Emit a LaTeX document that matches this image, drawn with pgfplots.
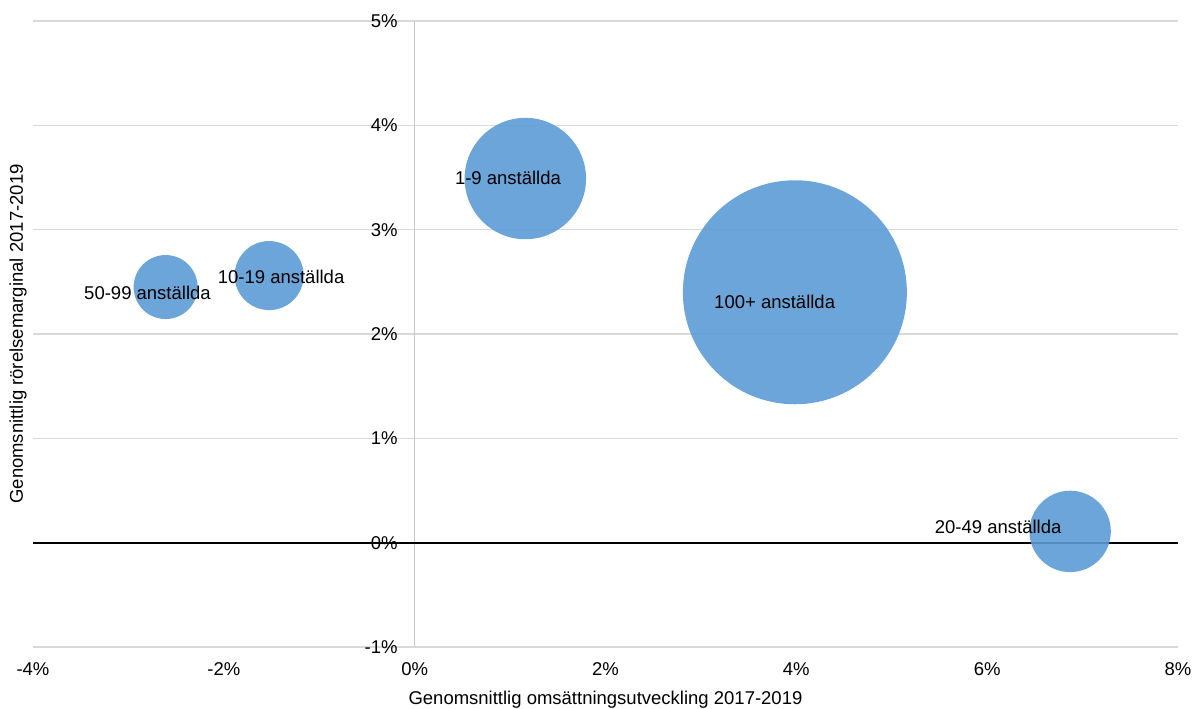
\documentclass[border=0pt]{standalone}
\usepackage{fontspec}
\setmainfont{Liberation Sans}
\usepackage{pgfplots}
\pgfplotsset{compat=1.18}
\definecolor{bubble}{RGB}{91,155,213}
\definecolor{gridgray}{RGB}{217,217,217}
\definecolor{axgray}{RGB}{200,200,200}
\begin{document}
\begin{tikzpicture}[font=\fontsize{18.5}{22}\selectfont]
\begin{axis}[
 at={(0,0)}, anchor=south west, scale only axis, width=1145pt, height=626pt,
 xmin=-4, xmax=8, ymin=-1, ymax=5,
 axis line style={draw=none}, major tick length=0pt,
 xtick={-4,-2,0,2,4,6,8}, xticklabels={-4\%,-2\%,0\%,2\%,4\%,6\%,8\%},
 ytick={-1,0,1,2,3,4,5}, yticklabels={-1\%,0\%,1\%,2\%,3\%,4\%,5\%},
 xticklabel style={anchor=center, inner sep=0pt, yshift=-22pt},
 yticklabel style={anchor=east, inner sep=0pt, xshift=364.7pt},
 ymajorgrids, grid style={gridgray, line width=1.5pt},
 extra x ticks={0}, extra x tick labels={},
 extra x tick style={xmajorgrids=true, grid style={axgray, line width=1.5pt}},
 extra y ticks={0}, extra y tick labels={},
 extra y tick style={ymajorgrids=true, grid style={black, line width=1.8pt}},
 xlabel={Genomsnittlig omsättningsutveckling 2017-2019},
 ylabel={Genomsnittlig rörelsemarginal 2017-2019},
 xlabel style={at={(axis description cs:0.5,-0.0847)}, anchor=center},
 ylabel style={at={(axis description cs:-0.0131,0.5)}, anchor=center},
 clip=false,
]
\addplot[scatter, only marks, mark=*,
 mark options={draw=bubble, draw opacity=0, fill=bubble, fill opacity=0.9},
 visualization depends on={\thisrow{r} \as \bubrad},
 scatter/@pre marker code/.code={\begin{scope}[mark size=\bubrad pt, draw opacity=0]},
 scatter/@post marker code/.code={\end{scope}}]
 table {
x y r
-2.61 2.45 32
-1.525 2.56 34.5
1.16 3.49 60.7
3.985 2.40 112
6.87 0.108 40.7
};
\coordinate (l1) at (axis cs:0.978,3.50);
\coordinate (l2) at (axis cs:3.773,2.31);
\coordinate (l3) at (axis cs:6.115,0.153);
\coordinate (l4) at (axis cs:-2.80,2.39);
\coordinate (l5) at (axis cs:-1.40,2.55);
\end{axis}
\node at (l1) {1-9 anställda};
\node at (l2) {100+ anställda};
\node at (l3) {20-49 anställda};
\node at (l4) {50-99 anställda};
\node at (l5) {10-19 anställda};
\pgfresetboundingbox
\path[use as bounding box] (-33pt,-62pt) rectangle (1161pt,647pt);
\end{tikzpicture}
\end{document}
